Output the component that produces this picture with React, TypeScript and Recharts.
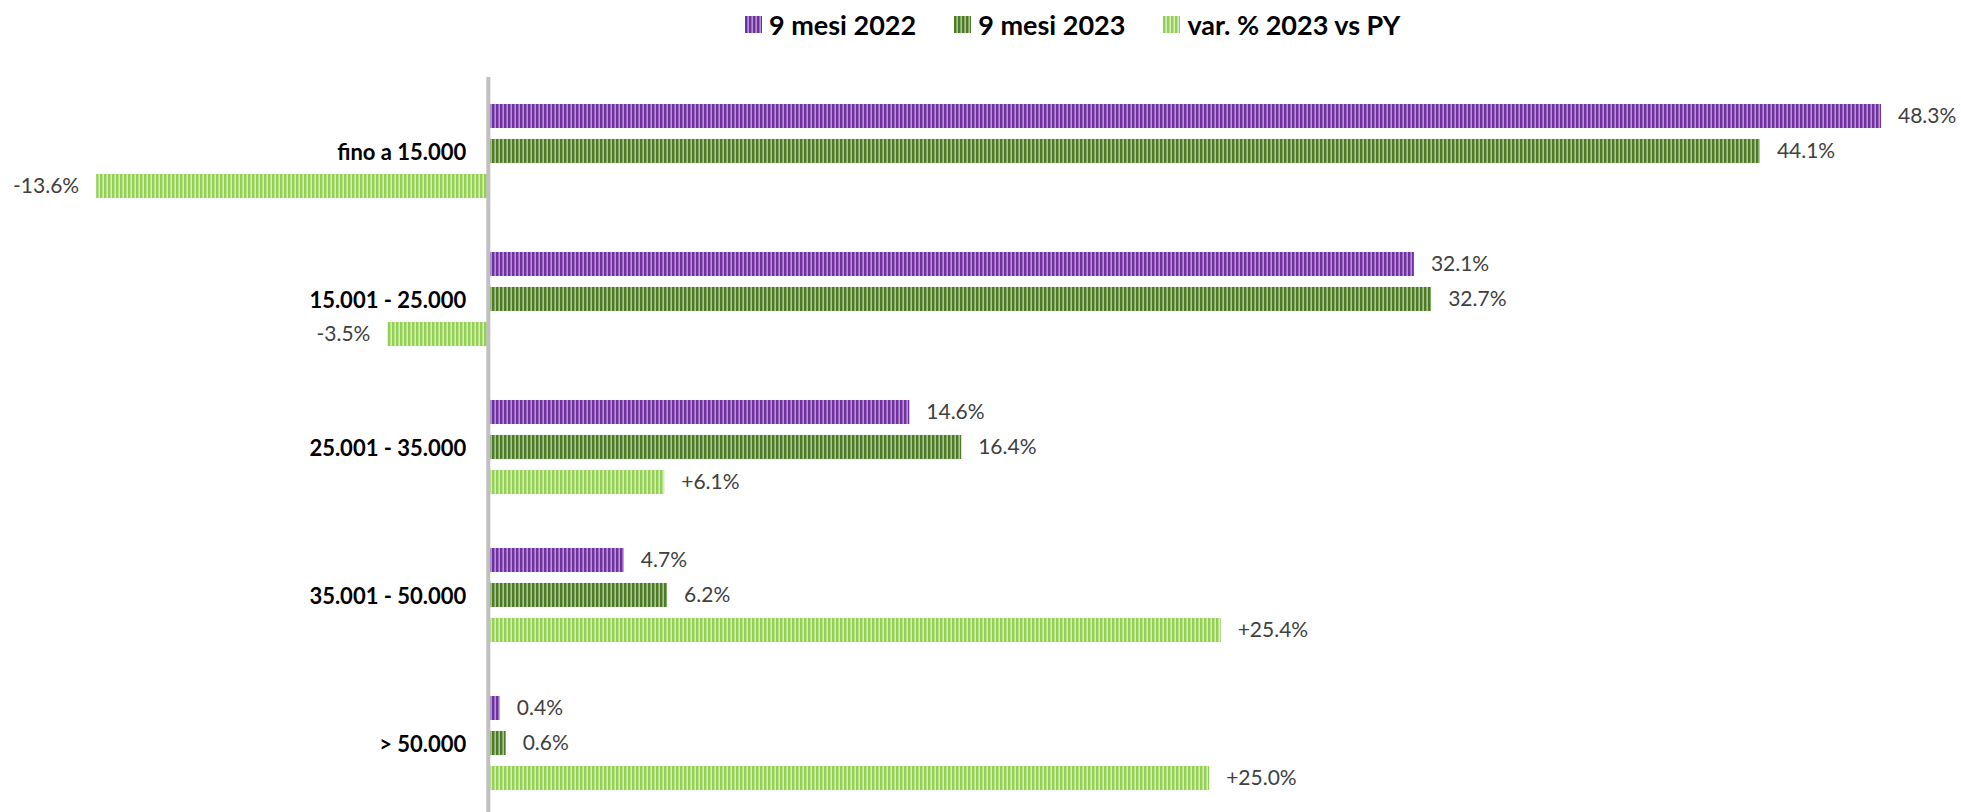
import { BarChart, Bar, XAxis, YAxis, Legend, LabelList, ReferenceLine } from 'recharts';

const categories = ['fino a 15.000', '15.001 - 25.000', '25.001 - 35.000', '35.001 - 50.000', '> 50.000'];
const mesi2022 = [48.3, 32.1, 14.6, 4.7, 0.4];
const mesi2023 = [44.1, 32.7, 16.4, 6.2, 0.6];
const varPct = [-13.6, -3.5, 6.1, 25.4, 25.0];

const seriesNames = ['9 mesi 2022', '9 mesi 2023', 'var. % 2023 vs PY'];

const data = categories.map((c, i) => ({
  cat: c,
  a: mesi2022[i],
  b: mesi2023[i],
  v: varPct[i],
}));

const W = 1961;
const H = 817;
const MARGIN = { top: 77, right: 31, left: 26, bottom: 0 };
const Y_AXIS_W = 1;
const X_MIN = -16;
const X_MAX = 50;
const PLOT_W = W - MARGIN.left - Y_AXIS_W - MARGIN.right;
const zeroX = MARGIN.left + Y_AXIS_W + ((0 - X_MIN) / (X_MAX - X_MIN)) * PLOT_W;

const FONT = 'Lato, "Noto Sans", sans-serif';

const patterns = [
  { id: 'patPurple', dark: '#7030a0', light: '#b894d6' },
  { id: 'patGreen', dark: '#4e7a27', light: '#a9c890' },
  { id: 'patLight', dark: '#92d050', light: '#d6eebf' },
];

function CatTick(props: any) {
  const { y, payload } = props;
  return (
    <text x={zeroX - 22} y={y} textAnchor="end" dominantBaseline="central"
      fontFamily={FONT} fontWeight={700} fontSize={22} fill="#000">
      {payload.value}
    </text>
  );
}

function LegendContent() {
  return (
    <div style={{ display: 'flex', alignItems: 'center', fontFamily: FONT, fontWeight: 700, fontSize: 27, color: '#000' }}>
      {seriesNames.map((n, i) => (
        <div key={n} style={{ display: 'flex', alignItems: 'center', marginRight: 38 }}>
          <svg width={17} height={17} style={{ marginRight: 7 }}>
            <rect width={17} height={17} fill={`url(#${patterns[i].id})`} />
          </svg>
          <span>{n}</span>
        </div>
      ))}
    </div>
  );
}

const fmt = (v: any) => `${Number(v).toFixed(1)}%`;
const fmtSigned = (v: any) => `${v > 0 ? '+' : ''}${Number(v).toFixed(1)}%`;

const labelStyle = { fontFamily: FONT, fontSize: 21, fill: '#404040' };

export default function App() {
  return (
    <div style={{ position: 'fixed', left: 0, top: 0, width: W, height: 812, overflow: 'hidden', background: '#fff' }}>
      <BarChart width={W} height={H} data={data} layout="vertical" margin={MARGIN} barSize={24} barGap={11}>
        <defs>
          {patterns.map(p => (
            <pattern key={p.id} id={p.id} width={4} height={4} patternUnits="userSpaceOnUse">
              <rect x={0} y={0} width={4} height={4} fill={p.light} />
              <rect x={0} y={0} width={2.4} height={4} fill={p.dark} />
            </pattern>
          ))}
        </defs>
        <XAxis type="number" domain={[X_MIN, X_MAX]} hide allowDataOverflow />
        <YAxis type="category" dataKey="cat" width={Y_AXIS_W} axisLine={false} tickLine={false}
          tick={(p: any) => <CatTick {...p} />} interval={0} />
        <Legend layout="horizontal" verticalAlign="middle" align="center" content={<LegendContent />}
          wrapperStyle={{ top: 8, left: 745, width: 'auto' }} />
        <Bar dataKey="a" name={seriesNames[0]} fill="url(#patPurple)" isAnimationActive={false}>
          <LabelList dataKey="a" position="right" offset={17} formatter={fmt} style={labelStyle} />
        </Bar>
        <Bar dataKey="b" name={seriesNames[1]} fill="url(#patGreen)" isAnimationActive={false}>
          <LabelList dataKey="b" position="right" offset={17} formatter={fmt} style={labelStyle} />
        </Bar>
        <Bar dataKey="v" name={seriesNames[2]} fill="url(#patLight)" isAnimationActive={false}>
          <LabelList dataKey="v" position="right" offset={17} formatter={fmtSigned} style={labelStyle} />
        </Bar>
        <ReferenceLine x={0} stroke="#bfbfbf" strokeWidth={4} ifOverflow="extendDomain" />
      </BarChart>
    </div>
  );
}
